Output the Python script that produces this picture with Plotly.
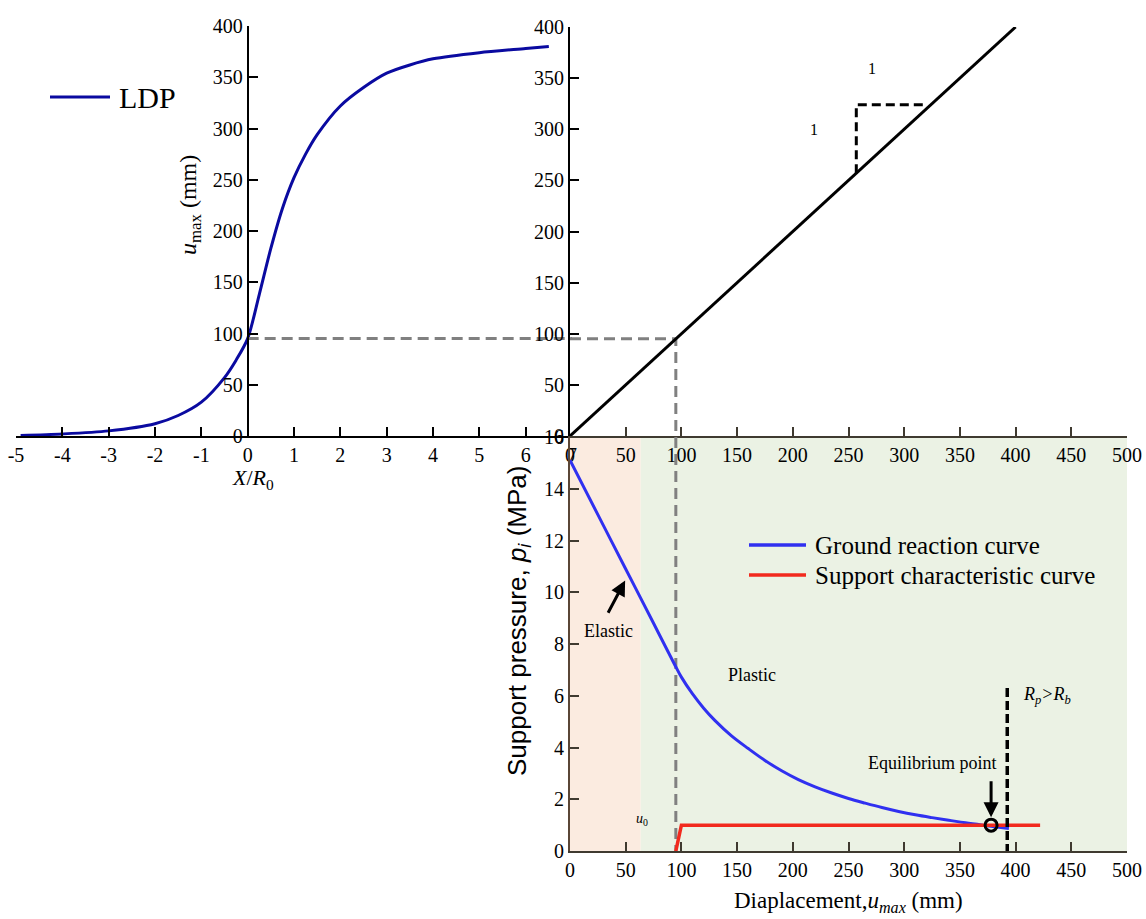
import plotly.graph_objects as go

# ---------------- data ----------------
# Longitudinal deformation profile (LDP)
ldp_x = [-4.9, -4.0, -3.0, -2.0, -1.5, -1.0, -0.5, -0.25, 0.0, 0.25, 0.5, 0.75, 1.0,
         1.25, 1.5, 2.0, 2.5, 3.0, 3.5, 4.0, 5.0, 6.0, 6.5]
ldp_u = [0.5, 2, 5, 12, 20, 33, 57, 74, 95, 138, 183, 222, 252,
         275, 294, 322, 340, 354, 362, 368, 374, 378, 380]

# 1:1 transfer line
one_x = [0, 400]
one_y = [0, 400]
tri_x = [257, 257, 318]
tri_y = [257, 324, 324]

# initial displacement at the face
u0 = 95

# Ground reaction curve
grc_u = [0, 25, 50, 75, 94, 100, 110, 120, 130, 145, 160, 175, 190, 205, 220, 235,
         250, 265, 280, 295, 310, 325, 340, 355, 376, 394]
grc_p = [15.1, 13.0, 10.9, 8.8, 7.2, 6.72, 6.07, 5.52, 5.05, 4.45, 3.96, 3.5, 3.1, 2.76,
         2.48, 2.24, 2.03, 1.85, 1.68, 1.53, 1.40, 1.29, 1.19, 1.09, 0.97, 0.87]

# Support characteristic curve
scc_u = [95, 100, 422]
scc_p = [0, 1.0, 1.0]

# equilibrium point and plastic-radius limit
eq_u, eq_p = 378, 1.0
rb_u, rb_top = 392.5, 6.3
elastic_limit = 63.5

left_ticks = list(range(-5, 8))
left_ticktext = [str(v) for v in left_ticks]

# ---------------- styling helpers ----------------
W, H = 1146, 919
def px(x):
    return x / W
def py(y):
    return 1 - y / H

SERIF = "Liberation Serif, Times New Roman, serif"
SANS = "Liberation Sans, Arial, sans-serif"
LDP_C = "#0a0aa0"
GRC_C = "#3030f0"
SCC_C = "#f22a1e"
GREY = "#808080"
AX_DARK = "#3f3a30"

fig = go.Figure()

fig.add_trace(go.Scatter(x=ldp_x, y=ldp_u, xaxis="x", yaxis="y", mode="lines",
                         line=dict(color=LDP_C, width=3, shape="spline", smoothing=0.8), name="LDP"))
# grey dashed transfer lines
fig.add_trace(go.Scatter(x=[0, 7], y=[u0, u0], xaxis="x", yaxis="y", mode="lines",
                         line=dict(color=GREY, width=3, dash="11px,6px")))
fig.add_trace(go.Scatter(x=[0, u0, u0], y=[u0, u0, 0], xaxis="x2", yaxis="y2", mode="lines",
                         line=dict(color=GREY, width=3, dash="11px,6px")))
fig.add_trace(go.Scatter(x=[u0, u0], y=[16, 0], xaxis="x3", yaxis="y3", mode="lines",
                         line=dict(color=GREY, width=3, dash="11px,6px")))

fig.add_trace(go.Scatter(x=one_x, y=one_y, xaxis="x2", yaxis="y2", mode="lines",
                         line=dict(color="black", width=3)))
fig.add_trace(go.Scatter(x=tri_x, y=tri_y, xaxis="x2", yaxis="y2", mode="lines",
                         line=dict(color="black", width=3, dash="9px,5px")))

fig.add_trace(go.Scatter(x=grc_u, y=grc_p, xaxis="x3", yaxis="y3", mode="lines",
                         line=dict(color=GRC_C, width=3, shape="spline", smoothing=1.0),
                         name="Ground reaction curve"))
fig.add_trace(go.Scatter(x=scc_u, y=scc_p, xaxis="x3", yaxis="y3", mode="lines",
                         line=dict(color=SCC_C, width=3.5), name="Support characteristic curve"))
fig.add_trace(go.Scatter(x=[rb_u, rb_u], y=[rb_top, -0.1], xaxis="x3", yaxis="y3", mode="lines",
                         line=dict(color="black", width=3.5, dash="9px,4px"), cliponaxis=False))
fig.add_trace(go.Scatter(x=[eq_u], y=[eq_p], xaxis="x3", yaxis="y3", mode="markers",
                         marker=dict(symbol="circle-open", size=12, color="black",
                                     line=dict(width=3, color="black"))))

common = dict(showgrid=False, zeroline=False, showline=True, linewidth=2,
              ticks="inside", ticklen=9, tickwidth=1.5, automargin=False,
              tickfont=dict(family=SERIF, size=20, color="black"))

fig.update_layout(
    template="none",
    width=W, height=H, margin=dict(l=0, r=0, t=0, b=0, pad=0),
    paper_bgcolor="white", plot_bgcolor="rgba(0,0,0,0)", showlegend=False,
    xaxis=dict(domain=[px(16), px(572)], range=[-5, 7], anchor="y",
               tickvals=left_ticks, ticktext=left_ticktext, linecolor="black",
               tickcolor="black", **common),
    yaxis=dict(domain=[py(436), py(26)], range=[0, 400], anchor="free",
               position=px(16 + 5 / 12 * 556), dtick=50, linecolor="black",
               tickcolor="black", **common),
    xaxis2=dict(domain=[px(570), px(1127)], range=[0, 500], anchor="y2", dtick=50,
                linecolor=AX_DARK, tickcolor=AX_DARK, **common),
    yaxis2=dict(domain=[py(436), py(27)], range=[0, 400], anchor="x2", dtick=50,
                linecolor="black", tickcolor="black", **common),
    xaxis3=dict(domain=[px(570), px(1127)], range=[0, 500], anchor="y3", dtick=50,
                linecolor=AX_DARK, tickcolor=AX_DARK, **common),
    yaxis3=dict(domain=[py(851), py(437)], range=[0, 16], anchor="x3", dtick=2,
                linecolor="#5a4636", tickcolor=AX_DARK, **common),
)

shapes = [
    # region backgrounds (x in data units, y spanning the lower panel) drawn under all subplots
    dict(type="rect", xref="x3", yref="paper", x0=0, x1=elastic_limit, y0=py(851), y1=py(437),
         fillcolor="#fbebe0", line=dict(width=0), layer="below"),
    dict(type="rect", xref="x3", yref="paper", x0=elastic_limit, x1=500, y0=py(851), y1=py(437),
         fillcolor="#ebf2e4", line=dict(width=0), layer="below"),
    # manual legends
    dict(type="line", xref="paper", yref="paper", x0=px(50), x1=px(110), y0=py(97), y1=py(97),
         line=dict(color=LDP_C, width=3)),
    dict(type="line", xref="paper", yref="paper", x0=px(749), x1=px(806), y0=py(545), y1=py(545),
         line=dict(color=GRC_C, width=3.5)),
    dict(type="line", xref="paper", yref="paper", x0=px(749), x1=px(806), y0=py(575), y1=py(575),
         line=dict(color=SCC_C, width=3.5)),
]
fig.update_layout(shapes=shapes)

def ptext(text, x, y, size, family=SERIF, angle=0, xanchor="center"):
    return dict(text=text, x=px(x), y=py(y), xref="paper", yref="paper", showarrow=False,
                xanchor=xanchor, yanchor="middle", textangle=angle,
                font=dict(family=family, size=size, color="black"))

def dtext(text, x, y, size, xr="x3", yr="y3"):
    return dict(text=text, x=x, y=y, xref=xr, yref=yr, showarrow=False,
                xanchor="center", yanchor="middle",
                font=dict(family=SERIF, size=size, color="black"))

annotations = [
    ptext("LDP", 117, 97, 30, xanchor="left"),
    ptext("Ground reaction curve", 813, 545, 25, xanchor="left"),
    ptext("Support characteristic curve", 813, 575, 25, xanchor="left"),
    ptext("<i>u</i><sub>max</sub> (mm)", 190, 205, 24, angle=-90),
    ptext("<i>X</i>/<i>R</i><sub>0</sub>", 253, 479, 22),
    ptext("Support pressure, <i>p</i><sub><i>i</i></sub> (MPa)", 518, 621, 26, family=SANS, angle=-90),
    ptext("Diaplacement,<i>u</i><sub><i>max</i></sub> (mm)", 848, 902, 23),
    dtext("1", 271, 359, 16, "x2", "y2"),
    dtext("1", 219, 300, 16, "x2", "y2"),
    dtext("Elastic", 35, 8.5, 18),
    dtext("Plastic", 163, 6.8, 18),
    dtext("Equilibrium point", 325, 3.4, 18),
    dtext("<i>R</i><sub><i>p</i></sub><i>&gt;R</i><sub><i>b</i></sub>", 428, 6.0, 18),
    dtext("<i>u</i><sub>0</sub>", 64.5, 1.2, 14),
    dict(text="", x=49.5, y=10.45, ax=33.5, ay=9.15, xref="x3", yref="y3", axref="x3", ayref="y3",
         showarrow=True, arrowhead=2, arrowsize=1, arrowwidth=3, arrowcolor="black"),
    dict(text="", x=eq_u, y=1.3, ax=eq_u, ay=2.75, xref="x3", yref="y3", axref="x3", ayref="y3",
         showarrow=True, arrowhead=2, arrowsize=1, arrowwidth=3, arrowcolor="black"),
]
fig.update_layout(annotations=annotations)

fig.write_html("out.html")
